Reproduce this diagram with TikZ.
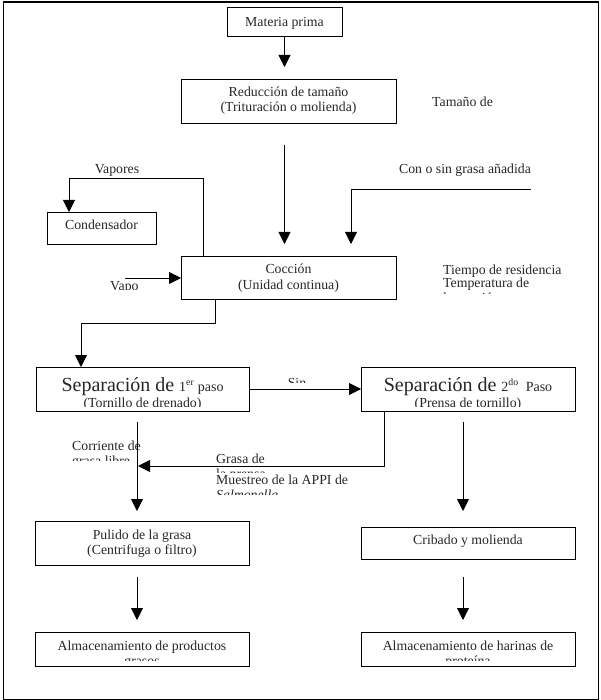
\documentclass[tikz,border=0pt]{standalone}
\usepackage{fontspec}
\setmainfont{Liberation Serif}
\usetikzlibrary{arrows.meta}
\begin{document}
\begin{tikzpicture}[x=1pt,y=-1pt,
  box/.style={draw=black, line width=0.9pt, inner sep=0pt, outer sep=0pt, anchor=north west},
  txt/.style={inner sep=0pt, anchor=base, text=black!85, font=\fontsize{13.8}{15.5}\selectfont},
  txtl/.style={txt, anchor=base west},
  arr/.style={-{Triangle[length=12pt,width=12pt]}, line width=0.9pt},
  frame/.style={draw=black, line width=1.2pt, inner sep=0pt, anchor=north west}]
\useasboundingbox (0,0) rectangle (600,700);
\node[frame, minimum width=595.5pt, minimum height=697pt] (fr) at (2.5,1.5) {};

% boxes
\node[box, minimum width=115pt, minimum height=29pt] (mp) at (227,7) {};
\node[box, minimum width=215pt, minimum height=44pt] (red) at (181,79) {};
\node[box, minimum width=109pt, minimum height=32pt] (cond) at (47,212) {};
\node[box, minimum width=215pt, minimum height=43pt] (coc) at (181,256) {};
\node[box, minimum width=213pt, minimum height=44pt] (s1) at (36,367) {};
\node[box, minimum width=214pt, minimum height=44pt] (s2) at (361,367) {};
\node[box, minimum width=214pt, minimum height=44pt] (pul) at (35,521) {};
\node[box, minimum width=214pt, minimum height=32pt] (crib) at (361,527) {};
\node[box, minimum width=214pt, minimum height=34pt] (alm1) at (35,632) {};
\node[box, minimum width=214pt, minimum height=34pt] (alm2) at (361,632) {};

% box texts
\node[txt] (mpt) at (284.5,26.5) {Materia prima};
\node[txt] (redt1) at (288.5,97) {Reducción de tamaño};
\node[txt] (redt2) at (288.5,112) {(Trituración o molienda)};
\node[txt] (condt) at (101.5,229.5) {Condensador};
\node[txt] (coct1) at (288.5,273) {Cocción};
\node[txt] (coct2) at (288.5,289) {(Unidad continua)};
\node[txt] (s1t) at (142.5,391) {{\fontsize{20}{22}\selectfont Separación de }{\fontsize{14}{16}\selectfont 1\textsuperscript{er} paso}};
\node[txt] (s2t) at (468,391) {{\fontsize{20}{22}\selectfont Separación de }{\fontsize{14}{16}\selectfont 2\textsuperscript{do} \ Paso}};
\begin{scope}
  \clip (37,393) rectangle (248,406.3);
  \node[txt] (s1t2) at (142.5,407.5) {(Tornillo de drenado)};
\end{scope}
\begin{scope}
  \clip (362,393) rectangle (574,406.3);
  \node[txt] (s2t2) at (468,407.5) {(Prensa de tornillo)};
\end{scope}
\node[txt] (pult1) at (142,539) {Pulido de la grasa};
\node[txt] (pult2) at (142,554) {(Centrifuga o filtro)};
\node[txt] (cribt) at (468,544.5) {Cribado y molienda};
\node[txt] (alm1t) at (142,650) {Almacenamiento de productos};
\node[txt] (alm2t) at (468,650) {Almacenamiento de harinas de};
\begin{scope}
  \clip (36,652) rectangle (248,660);
  \node[txt] (alm1t2) at (142,665.5) {grasos};
\end{scope}
\begin{scope}
  \clip (362,652) rectangle (574,660);
  \node[txt] (alm2t2) at (468,665.5) {proteína};
\end{scope}

% free texts
\node[txt] (vap) at (117,174) {Vapores};
\node[txt] (cos) at (465,174) {Con o sin grasa añadida};
\begin{scope}
  \clip (425,90) rectangle (520,106.5);
  \node[txtl] (tam) at (432,107) {Tamaño de};
\end{scope}
\begin{scope}
  \clip (100,272) rectangle (138.5,289.5);
  \node[txtl] (vapo) at (110,290) {Vapor};
\end{scope}
\node[txtl] (tr1) at (443,274) {Tiempo de residencia};
\node[txtl] (tr2) at (443,287) {Temperatura de};
\begin{scope}
  \clip (430,291) rectangle (598,293.5);
  \node[txtl] (tr3) at (443,302) {la cocción};
\end{scope}
\begin{scope}
  \clip (270,370) rectangle (330,382);
  \node[txt] (sin) at (297,387.5) {Sin};
\end{scope}
\node[txtl] (cor1) at (72,450) {Corriente de};
\begin{scope}
  \clip (60,455) rectangle (170,460.3);
  \node[txtl] (cor2) at (72,465.5) {grasa libre};
\end{scope}
\node[txtl] (gr1) at (216,463) {Grasa de};
\begin{scope}
  \clip (205,467.5) rectangle (320,472.5);
  \node[txtl] (gr2) at (216,478) {la prensa};
\end{scope}
\node[txtl] (mu1) at (216,484) {Muestreo de la APPI de};
\begin{scope}
  \clip (205,488) rectangle (360,494.5);
  \node[txtl] (mu2) at (216,499.5) {\itshape Salmonella};
\end{scope}

% connectors
\coordinate (gin) at (531,189);
\coordinate (vin) at (125,278);
\coordinate (gtip) at (138,466);
\draw[arr, shorten >=12pt] (mp.south) -- (mp.south |- red.north);
\draw[arr, shorten <=22pt, shorten >=12pt] (red.south -| mp.south) -- (coc.north -| mp.south);
\draw[arr] ([xshift=22pt]coc.north west) -- ++(0,-78) -| ([xshift=22pt]cond.north west);
\draw[arr, shorten >=12pt] (gin) -| ([xshift=170pt]coc.north west);
\draw[arr] (vin) -- (vin -| coc.west);
\draw[arr] ([xshift=34pt]coc.south west) -- ++(0,24) -| ([xshift=45pt]s1.north west);
\draw[arr] (s1.east) -- (s2.west);
\draw[arr] ([xshift=23pt]s2.south west) |- (gtip);
\draw[arr, shorten <=11pt, shorten >=10pt] ([xshift=101pt]s1.south west) -- ([xshift=102pt]pul.north west);
\draw[arr, shorten <=11pt, shorten >=16pt] ([xshift=102pt]s2.south west) -- ([xshift=102pt]crib.north west);
\draw[arr, shorten <=12pt, shorten >=12pt] ([xshift=102pt]pul.south west) -- ([xshift=102pt]alm1.north west);
\draw[arr, shorten <=18pt, shorten >=12pt] ([xshift=102pt]crib.south west) -- ([xshift=102pt]alm2.north west);
\end{tikzpicture}
\end{document}
